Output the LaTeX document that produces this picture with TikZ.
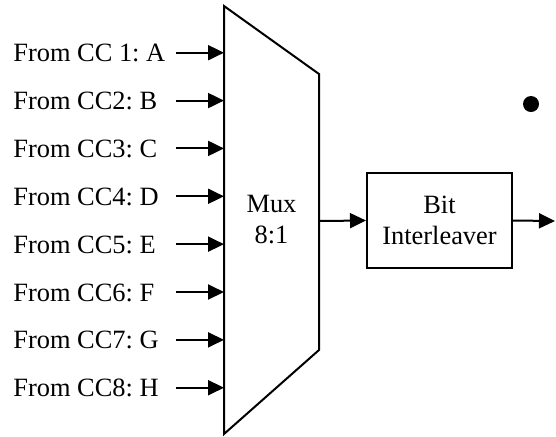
\documentclass[tikz,border=0pt]{standalone}
\usepackage{fontspec}
\setmainfont{Liberation Serif}
\usetikzlibrary{arrows.meta,positioning}
\frenchspacing

\begin{document}
\begin{tikzpicture}[
    x=0.5pt, y=-0.5pt,
    font=\fontsize{13.2}{15.5}\selectfont,
    box/.style={draw, line width=1pt, align=center, minimum width=72.5pt, minimum height=47.5pt},
    arrow/.style={-{Triangle[length=8pt,width=7.5pt]}, line width=1pt},
    lbl/.style={anchor=base west, inner sep=0pt}
]
\useasboundingbox (0,0) rectangle (556,436);
\coordinate (mtl) at (224,6);
\coordinate (mtr) at (319,74);
\coordinate (mbr) at (319,350);
\coordinate (mbl) at (224,434);
\draw[line width=1pt, line join=miter] (mtl) -- (mtr) -- (mbr) -- (mbl) -- cycle;
\node[align=center] (mux) at (271.5,220) {Mux\\8:1};
\foreach \i/\txt in {1/From CC 1: A, 2/From CC2: B, 3/From CC3: C, 4/From CC4: D,
                     5/From CC5: E, 6/From CC6: F, 7/From CC7: G, 8/From CC8: H} {
  \node[lbl] (from\i) at (13,{61.7+(\i-1)*47.86}) {\txt};
  \coordinate (in\i) at (176,{52.7+(\i-1)*47.86});
  \coordinate (mux\i) at (224,{52.7+(\i-1)*47.86});
  \draw[arrow] (in\i) -- (mux\i);
}
\node[box] (bit) at (439.5,220.5) {Bit\\Interleaver};
\coordinate (muxout) at (319,221);
\coordinate (out) at (555,221);
\draw[arrow] (muxout) -- (bit.west);
\draw[arrow] (bit.east) -- (out);
\node[circle, fill, inner sep=0pt, minimum size=8pt] (dot) at (531,104) {};
\end{tikzpicture}
\end{document}
